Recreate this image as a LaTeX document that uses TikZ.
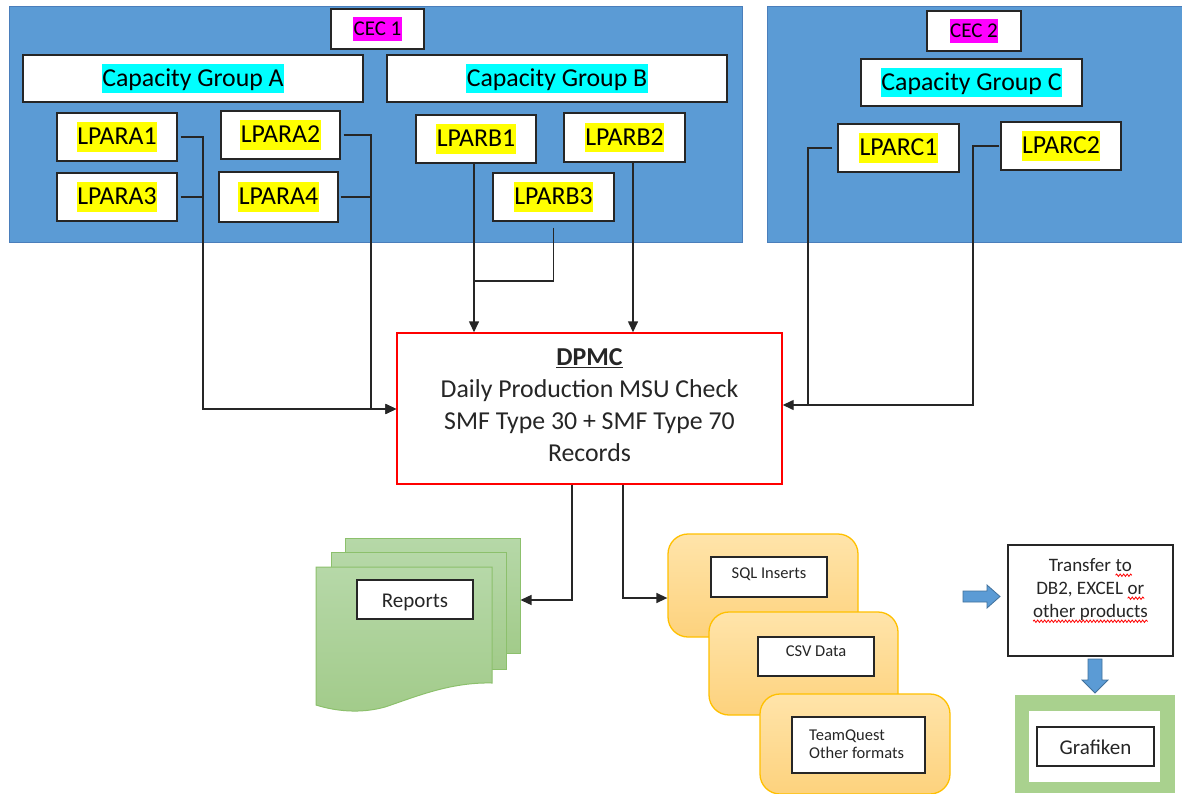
\documentclass[tikz,border=0pt]{standalone}
\usepackage{fontspec}
\setmainfont{Carlito}
\usetikzlibrary{arrows.meta,decorations.pathmorphing}
\definecolor{cecblue}{HTML}{5B9BD5}
\definecolor{cecedge}{HTML}{4A7EBB}
\definecolor{hlyellow}{HTML}{FFFF00}
\definecolor{hlcyan}{HTML}{00FFFF}
\definecolor{hlmag}{HTML}{FF00FF}
\definecolor{repedge}{HTML}{8CC06C}
\definecolor{reptop}{HTML}{B6D8A8}
\definecolor{repbot}{HTML}{A2CB8A}
\definecolor{orgedge}{HTML}{FFC000}
\definecolor{orgtop}{HTML}{FFE4AA}
\definecolor{orgbot}{HTML}{FDD27D}
\definecolor{grgreen}{HTML}{A9D18E}
\definecolor{arrblue}{HTML}{5B9BD5}
\definecolor{arredge}{HTML}{41719C}
\definecolor{txt}{HTML}{262626}
\newcommand\redwave[1]{\tikz[x=1pt,y=1pt,baseline=(w.base)]{\node[inner sep=0pt,outer sep=0pt] (w) {#1};\draw[red,line width=0.8pt,decorate,decoration={snake,amplitude=1.2pt,segment length=3.5pt}] ([yshift=-4pt]w.base west) -- ([yshift=-4pt]w.base east);}}
\newcommand\hlt[2]{{\setlength\fboxsep{0pt}\colorbox{#1}{\rule[-0.28em]{0pt}{1.16em}\hspace{0.5pt}#2\hspace{0.5pt}}}}
\newcommand\bl[2]{\raisebox{#1}[0pt][0pt]{#2}}
\begin{document}
\begin{tikzpicture}[x=1pt,y=-1pt,
  wbox/.style={draw=black!85,line width=1.4pt,fill=white,inner sep=0pt,text=black},
  conn/.style={draw=black!85,line width=1.4pt},
  arr/.style={conn,-{Triangle[length=11pt,width=10pt]}},
  bigf/.style={font=\fontsize{25.8}{32}\selectfont},
  midf/.style={font=\fontsize{21}{25}\selectfont},
  smlf/.style={font=\fontsize{16.5}{18.5}\selectfont},
  cecbg/.style={draw=cecedge,line width=1pt,fill=cecblue},
  rep/.style={draw=repedge,line width=1pt,top color=reptop,bottom color=repbot,inner sep=0pt},
  orng/.style={draw=orgedge,line width=1.3pt,rounded corners=20pt,top color=orgtop,bottom color=orgbot,inner sep=0pt},
  barrow/.style={fill=arrblue,draw=arredge,line width=0.8pt}]
\useasboundingbox (0,0) rectangle (1182,794);
\fill[white] (0,0) rectangle (1182,794);
% CEC backgrounds
\path[cecbg] (9,7) rectangle (742,243);
\path[cecbg] (767,7) rectangle (1184,243);
% CEC 1
\node[wbox,midf,minimum width=93pt,minimum height=40pt] (cec1) at (377.5,29) {\hlt{hlmag}{CEC 1}};
\node[wbox,bigf,minimum width=340pt,minimum height=47pt] (capA) at (193,78.5) {\hlt{hlcyan}{Capacity Group A}};
\node[wbox,bigf,minimum width=340pt,minimum height=47pt] (capB) at (557,78.5) {\hlt{hlcyan}{Capacity Group B}};
\node[wbox,bigf,minimum width=120pt,minimum height=48pt] (a1) at (117,137) {\hlt{hlyellow}{LPARA1}};
\node[wbox,bigf,minimum width=119pt,minimum height=48pt] (a2) at (280.5,135) {\hlt{hlyellow}{LPARA2}};
\node[wbox,bigf,minimum width=120pt,minimum height=48pt] (a3) at (117,197) {\hlt{hlyellow}{LPARA3}};
\node[wbox,bigf,minimum width=119pt,minimum height=50pt] (a4) at (278.5,197) {\hlt{hlyellow}{LPARA4}};
\node[wbox,bigf,minimum width=120pt,minimum height=48pt] (b1) at (476,139) {\hlt{hlyellow}{LPARB1}};
\node[wbox,bigf,minimum width=121pt,minimum height=49pt] (b2) at (624.5,137.5) {\hlt{hlyellow}{LPARB2}};
\node[wbox,bigf,minimum width=121pt,minimum height=48pt] (b3) at (553.5,197) {\hlt{hlyellow}{LPARB3}};
% CEC 2
\node[wbox,midf,minimum width=94pt,minimum height=40pt] (cec2) at (974,31) {\hlt{hlmag}{CEC 2}};
\node[wbox,bigf,minimum width=221pt,minimum height=47pt] (capC) at (971.5,82.5) {\hlt{hlcyan}{Capacity Group C}};
\node[wbox,bigf,minimum width=121pt,minimum height=48pt] (c1) at (898.5,148) {\hlt{hlyellow}{LPARC1}};
\node[wbox,bigf,minimum width=120pt,minimum height=48pt] (c2) at (1061,146) {\hlt{hlyellow}{LPARC2}};
% DPMC
\node[draw=red,line width=1.4pt,fill=white,minimum width=385pt,minimum height=151pt,inner sep=0pt] (dpmc) at (589.5,408.5) {};
\node[bigf,text=txt,align=center,inner sep=0pt] (dpmcT) at (589.5,405) {\underline{\textbf{DPMC}}\\Daily Production MSU Check\\SMF Type 30 + SMF Type 70\\Records};
% connectors from LPARs
\coordinate (jA) at (203,409);
\coordinate (jB) at (371,409);
\draw[arr] ([xshift=3pt]a1.east) -| (jA) -- (dpmc.west |- jA);
\draw[conn] ([xshift=3pt]a3.east) -- (a3.east -| jA);
\draw[arr] ([xshift=3pt]a2.east) -| (jB) -- (dpmc.west |- jB);
\draw[conn] ([xshift=2pt]a4.east) -- (a4.east -| jB);
\coordinate (jB1) at (474,281);
\draw[arr] (b1.south -| jB1) -- (jB1) -- (jB1 |- dpmc.north);
\draw[conn] ([yshift=-6pt]b3.south) |- (jB1);
\draw[arr] ([xshift=8.5pt]b2.south) -- ([xshift=8.5pt]b2.south |- dpmc.north);
\coordinate (jC) at (808,405);
\coordinate (jC2) at (973,405);
\draw[arr] ([xshift=-5pt]c1.west) -| (jC) -- (dpmc.east |- jC);
\draw[conn] ([xshift=-1pt]c2.west) -| (jC2) -- (jC);
% Reports
\node[rep,minimum width=175pt,minimum height=115pt] (rep3) at (432.5,595.5) {};
\node[rep,minimum width=175pt,minimum height=117pt] (rep2) at (418.5,610.5) {};
\path[rep] (316,567) -- (492,567) -- (492,683) .. controls (450,682) and (415,697) .. (385,707) .. controls (360,714) and (335,711) .. (316,705) -- cycle;
\node[wbox,midf,text=txt,minimum width=116pt,minimum height=39pt] (repL) at (415,599.5) {\bl{-8pt}{Reports}};
\draw[arr] ([xshift=-17.5pt]dpmc.south) |- (rep3.east |- 0,600);
% orange outputs
\node[orng,minimum width=190pt,minimum height=103pt] (sql) at (763,585.5) {};
\node[orng,minimum width=189pt,minimum height=103pt] (csv) at (803.5,663.5) {};
\node[orng,minimum width=190pt,minimum height=100pt] (tq) at (855,744) {};
\node[wbox,smlf,text=txt,minimum width=116pt,minimum height=40pt] (sqlL) at (769,577) {\bl{-1pt}{SQL Inserts}};
\node[wbox,smlf,text=txt,minimum width=116pt,minimum height=39pt] (csvL) at (816,656.5) {\bl{0pt}{CSV Data}};
\node[wbox,minimum width=133pt,minimum height=56pt] (tqL) at (858.5,745) {};
\node[smlf,text=txt,align=left,anchor=west,inner sep=0pt] (tqT) at (809,744) {TeamQuest\\Other formats};
\draw[arr] ([xshift=33.5pt]dpmc.south) |- (sql.west |- 0,598);
% transfer
\path[barrow] (963,591) -- (987,591) -- (987,585) -- (1000,596.5) -- (987,608) -- (987,602) -- (963,602) -- cycle;
\node[wbox,minimum width=165pt,minimum height=111pt] (trans) at (1090.5,600.5) {};
\node[text=txt,align=center,anchor=north,inner sep=0pt,font=\fontsize{19}{23}\selectfont] (transT) at (1090.5,558) {Transfer \redwave{to}\\DB2, EXCEL \redwave{or}\\\redwave{other products}};
\path[barrow] (1088,659) -- (1102,659) -- (1102,680) -- (1108,680) -- (1095,693) -- (1082,680) -- (1088,680) -- cycle;
% Grafiken
\fill[grgreen] (1015,695) rectangle (1175,793);
\fill[white] (1029,711) rectangle (1160,782);
\node[wbox,midf,text=txt,minimum width=117pt,minimum height=39pt] (graf) at (1095.5,746.5) {\bl{-8pt}{Grafiken}};
\end{tikzpicture}
\end{document}
